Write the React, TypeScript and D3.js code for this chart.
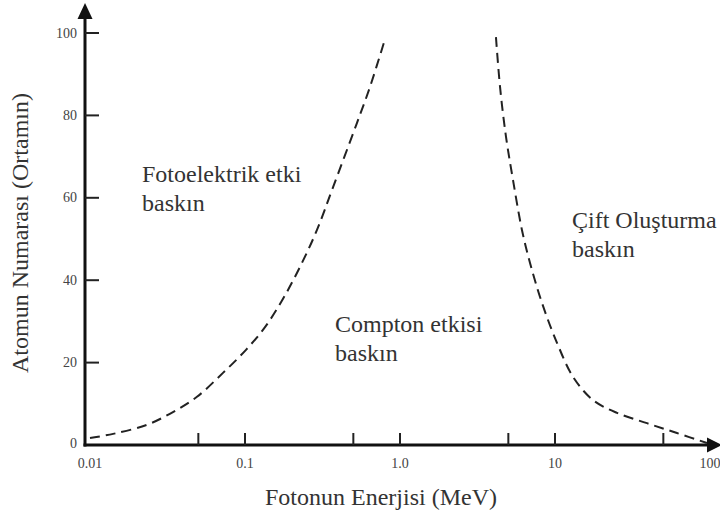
import React from "react";
import * as d3 from "d3";

// Data
const yTickValues = [0, 20, 40, 60, 80, 100];
const xLabelValues = [0.01, 0.1, 1, 10, 100];
const xLabelTexts = ["0.01", "0.1", "1.0", "10", "100"];
const xTickMarks = [0.05, 0.1, 0.5, 1, 5, 10, 50];

// Boundary: photoelectric / Compton
const leftCurveE = [0.01, 0.0141, 0.0233, 0.0343, 0.049, 0.0721, 0.1015, 0.1346, 0.1785, 0.233, 0.2913, 0.37, 0.528, 0.64, 0.8];
const leftCurveZ = [1.7, 2.7, 4.9, 8.0, 11.7, 17.5, 23.1, 28.6, 35.9, 44.2, 52.2, 62.6, 78.2, 86.9, 98.5];

// Boundary: Compton / pair production
const rightCurveE = [4.16, 4.42, 4.83, 5.36, 6.12, 6.9, 8.24, 10.3, 13.1, 17.6, 25.1, 39.2, 61.2, 95.6];
const rightCurveZ = [99.0, 86.9, 74.8, 64.3, 52.2, 44.2, 34.5, 24.8, 16.5, 10.9, 7.8, 5.3, 2.9, 0.5];

const regionLabels = [
  { lines: ["Fotoelektrik etki", "baskın"], x: 142, y: 182 },
  { lines: ["Compton etkisi", "baskın"], x: 335, y: 332 },
  { lines: ["Çift Oluşturma", "baskın"], x: 572, y: 228 },
];

const xTitle = "Fotonun Enerjisi (MeV)";
const yTitle = "Atomun Numarası (Ortamın)";

const W = 720;
const H = 517;
const FONT = "Liberation Serif, DejaVu Serif, serif";
const fontStyle = { fontFamily: FONT };

export default function App() {
  const axisX = 85;
  const axisY = 445;
  const x = d3.scaleLog().domain([0.01, 100]).range([90, 710]);
  const y = d3.scaleLinear().domain([0, 100]).range([axisY, 33]);

  const line = d3
    .line<[number, number]>()
    .x((d) => x(d[0]))
    .y((d) => y(d[1]))
    .curve(d3.curveCatmullRom.alpha(0.5));

  const leftPts = leftCurveE.map((e, i) => [e, leftCurveZ[i]] as [number, number]);
  const rightPts = rightCurveE.map((e, i) => [e, rightCurveZ[i]] as [number, number]);

  const axisColor = "#111";

  return (
    <svg
      width={W}
      height={H}
      style={{ position: "absolute", left: 0, top: 0, background: "#fff", fontFamily: FONT }}
    >
      {/* curves */}
      <path d={line(leftPts) || ""} fill="none" stroke="#222" strokeWidth={2} strokeDasharray="10,6" />
      <path d={line(rightPts) || ""} fill="none" stroke="#222" strokeWidth={2} strokeDasharray="10,6" />

      {/* y axis */}
      <line x1={axisX} x2={axisX} y1={axisY + 1.5} y2={16} stroke={axisColor} strokeWidth={3} />
      <path d={`M${axisX},3 L${axisX - 7.5},19 L${axisX + 7.5},19 Z`} fill={axisColor} />
      {yTickValues.map((v) =>
        v === 0 ? null : (
          <line key={"yt" + v} x1={axisX} x2={axisX + 14} y1={y(v)} y2={y(v)} stroke="#222" strokeWidth={2} />
        )
      )}
      {yTickValues.map((v) => (
        <text
          key={"yl" + v}
          x={77}
          y={v === 0 ? y(v) - 2 : y(v)}
          textAnchor="end"
          dominantBaseline="central"
          fontSize={14}
          fill="#444"
          style={fontStyle}
        >
          {v}
        </text>
      ))}

      {/* x axis */}
      <line x1={axisX - 1.5} x2={712} y1={axisY} y2={axisY} stroke={axisColor} strokeWidth={3} />
      <path d={`M722,${axisY} L707,${axisY - 7.5} L707,${axisY + 7.5} Z`} fill={axisColor} />
      {xTickMarks.map((v) => (
        <line key={"xt" + v} x1={x(v)} x2={x(v)} y1={axisY} y2={axisY - 12} stroke="#222" strokeWidth={2} />
      ))}
      {xLabelValues.map((v, i) => (
        <text key={"xl" + v} x={x(v)} y={468} textAnchor="middle" fontSize={14} fill="#444" style={fontStyle}>
          {xLabelTexts[i]}
        </text>
      ))}

      {/* titles */}
      <text x={381} y={505} textAnchor="middle" fontSize={24} fill="#333" style={fontStyle}>
        {xTitle}
      </text>
      <text
        transform="translate(28,233) rotate(-90)"
        textAnchor="middle"
        fontSize={24}
        fill="#333"
        style={fontStyle}
      >
        {yTitle}
      </text>

      {/* region labels */}
      {regionLabels.map((r, i) => (
        <text key={"r" + i} x={r.x} y={r.y} fontSize={24} fill="#333" style={fontStyle}>
          {r.lines.map((l, j) => (
            <tspan key={j} x={r.x} dy={j === 0 ? 0 : 29}>
              {l}
            </tspan>
          ))}
        </text>
      ))}
    </svg>
  );
}
